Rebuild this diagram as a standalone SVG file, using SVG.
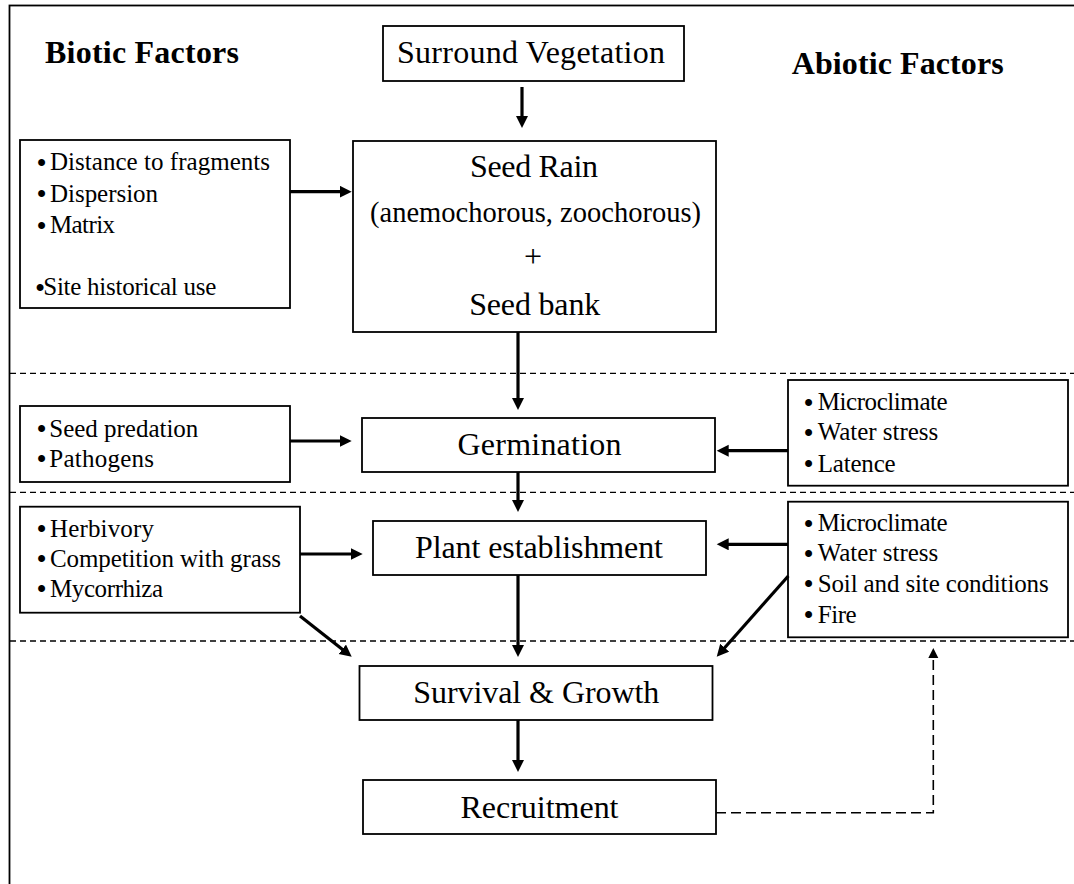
<svg xmlns="http://www.w3.org/2000/svg" width="1074" height="884" viewBox="0 0 1074 884">
<style>
text{font-family:"Liberation Serif","Times New Roman",serif;fill:#000}
.h{font-weight:bold;font-size:32px}
.t{font-size:32px;text-anchor:middle}
.s{font-size:28.5px;text-anchor:middle}
.b{font-size:25px}
.d{font-size:29px}
.box{fill:#fff;stroke:#000;stroke-width:1.8}
.sep{stroke:#000;stroke-width:1.3;stroke-dasharray:6 4;fill:none}
.arr{stroke:#000;stroke-width:3.2;fill:none;marker-end:url(#ah)}
.fb{stroke:#000;stroke-width:1.6;stroke-dasharray:10 5;fill:none;marker-end:url(#ah2)}
</style>
<defs>
<marker id="ah" markerUnits="userSpaceOnUse" markerWidth="13" markerHeight="13" refX="6" refY="6" orient="auto">
<path d="M0,0 L12,6 L0,12 z" fill="#000"/>
</marker>
<marker id="ah2" markerUnits="userSpaceOnUse" markerWidth="11" markerHeight="11" refX="4" refY="5" orient="auto">
<path d="M0,0 L10,5 L0,10 z" fill="#000"/>
</marker>
</defs>
<rect width="1074" height="884" fill="#fff"/>
<rect x="9.5" y="5.5" width="1090" height="900" fill="none" stroke="#000" stroke-width="1.8"/>

<g id="separators">
<line class="sep" x1="10" y1="373.3" x2="1074" y2="373.3"/>
<line class="sep" x1="10" y1="492.3" x2="1074" y2="492.3"/>
<line class="sep" x1="10" y1="641" x2="1074" y2="641"/>
</g>

<g id="headings">
<text class="h" x="45" y="63.3" textLength="194">Biotic Factors</text>
<text class="h" x="791.7" y="74" textLength="212">Abiotic Factors</text>
</g>

<g id="surround">
<rect class="box" x="383" y="26" width="301" height="55"/>
<text class="t" x="531" y="63.3" textLength="268">Surround Vegetation</text>
</g>

<g id="seedrain">
<rect class="box" x="353" y="141" width="363" height="191"/>
<text class="t" x="534" y="176.7" textLength="128">Seed Rain</text>
<text class="s" x="535.5" y="222" textLength="331">(anemochorous, zoochorous)</text>
<text class="t" x="533" y="266.7">+</text>
<text class="t" x="534.7" y="315" textLength="131">Seed bank</text>
</g>

<g id="biotic1">
<rect class="box" x="20" y="140" width="270" height="168"/>
<text class="b" x="36.5" y="170"><tspan class="d" dy="2.5">•</tspan><tspan x="50" dy="-2.5" textLength="220">Distance to fragments</tspan></text>
<text class="b" x="36.5" y="201.7"><tspan class="d" dy="2.5">•</tspan><tspan x="50" dy="-2.5" textLength="108">Dispersion</tspan></text>
<text class="b" x="36.5" y="233.3"><tspan class="d" dy="2.5">•</tspan><tspan x="50" dy="-2.5" textLength="65">Matrix</tspan></text>
<text class="b" x="35" y="295"><tspan class="d" dy="2.5">•</tspan><tspan x="43.3" dy="-2.5" textLength="173">Site historical use</tspan></text>
</g>

<g id="germination">
<rect class="box" x="362" y="418" width="353" height="54"/>
<text class="t" x="539.5" y="455" textLength="164">Germination</text>
</g>

<g id="biotic2">
<rect class="box" x="20" y="406" width="270" height="76"/>
<text class="b" x="36.5" y="436.7"><tspan class="d" dy="2.5">•</tspan><tspan x="49.3" dy="-2.5" textLength="149">Seed predation</tspan></text>
<text class="b" x="36.5" y="466.7"><tspan class="d" dy="2.5">•</tspan><tspan x="49.3" dy="-2.5" textLength="104.7">Pathogens</tspan></text>
</g>

<g id="abiotic1">
<rect class="box" x="788" y="380" width="280" height="105.7"/>
<text class="b" x="803.5" y="410"><tspan class="d" dy="2.5">•</tspan><tspan x="817.7" dy="-2.5" textLength="130">Microclimate</tspan></text>
<text class="b" x="803.5" y="440"><tspan class="d" dy="2.5">•</tspan><tspan x="817.7" dy="-2.5" textLength="120.6">Water stress</tspan></text>
<text class="b" x="803.5" y="471.7"><tspan class="d" dy="2.5">•</tspan><tspan x="817.7" dy="-2.5" textLength="78">Latence</tspan></text>
</g>

<g id="establishment">
<rect class="box" x="373" y="521" width="333" height="54"/>
<text class="t" x="539" y="558.3" textLength="248">Plant establishment</text>
</g>

<g id="biotic3">
<rect class="box" x="20" y="506.7" width="280" height="106"/>
<text class="b" x="36.5" y="536.7"><tspan class="d" dy="2.5">•</tspan><tspan x="50" dy="-2.5" textLength="104">Herbivory</tspan></text>
<text class="b" x="36.5" y="566.7"><tspan class="d" dy="2.5">•</tspan><tspan x="50" dy="-2.5" textLength="231">Competition with grass</tspan></text>
<text class="b" x="36.5" y="596.7"><tspan class="d" dy="2.5">•</tspan><tspan x="50" dy="-2.5" textLength="113">Mycorrhiza</tspan></text>
</g>

<g id="abiotic2">
<rect class="box" x="788" y="501.7" width="280" height="135.6"/>
<text class="b" x="803.5" y="531"><tspan class="d" dy="2.5">•</tspan><tspan x="817.7" dy="-2.5" textLength="130">Microclimate</tspan></text>
<text class="b" x="803.5" y="561"><tspan class="d" dy="2.5">•</tspan><tspan x="817.7" dy="-2.5" textLength="120.6">Water stress</tspan></text>
<text class="b" x="803.5" y="591.7"><tspan class="d" dy="2.5">•</tspan><tspan x="817.7" dy="-2.5" textLength="231">Soil and site conditions</tspan></text>
<text class="b" x="803.5" y="622.7"><tspan class="d" dy="2.5">•</tspan><tspan x="817.7" dy="-2.5" textLength="39">Fire</tspan></text>
</g>

<g id="survival">
<rect class="box" x="359.5" y="666" width="353" height="54"/>
<text class="t" x="536.3" y="703.3" textLength="246">Survival &amp; Growth</text>
</g>

<g id="recruitment">
<rect class="box" x="363" y="780" width="353" height="54"/>
<text class="t" x="539.5" y="818.3" textLength="158">Recruitment</text>
</g>

<g id="connectors">
<line class="arr" x1="522" y1="87" x2="522" y2="122"/>
<line class="arr" x1="518" y1="332" x2="518" y2="404"/>
<line class="arr" x1="518" y1="472" x2="518" y2="506"/>
<line class="arr" x1="518" y1="575" x2="518" y2="651"/>
<line class="arr" x1="518" y1="720" x2="518" y2="766"/>
<line class="arr" x1="290" y1="191.7" x2="345.7" y2="191.7"/>
<line class="arr" x1="290" y1="441" x2="345.7" y2="441"/>
<line class="arr" x1="300" y1="554" x2="356.7" y2="554"/>
<line class="arr" x1="788" y1="450.7" x2="722.7" y2="450.7"/>
<line class="arr" x1="788" y1="544.3" x2="722.7" y2="544.3"/>
<line class="arr" x1="300" y1="616" x2="347" y2="653"/>
<line class="arr" x1="788.3" y1="576" x2="720.7" y2="652.2"/>
<polyline class="fb" points="716,812.7 933.3,812.7 933.3,654"/>
</g>
</svg>
